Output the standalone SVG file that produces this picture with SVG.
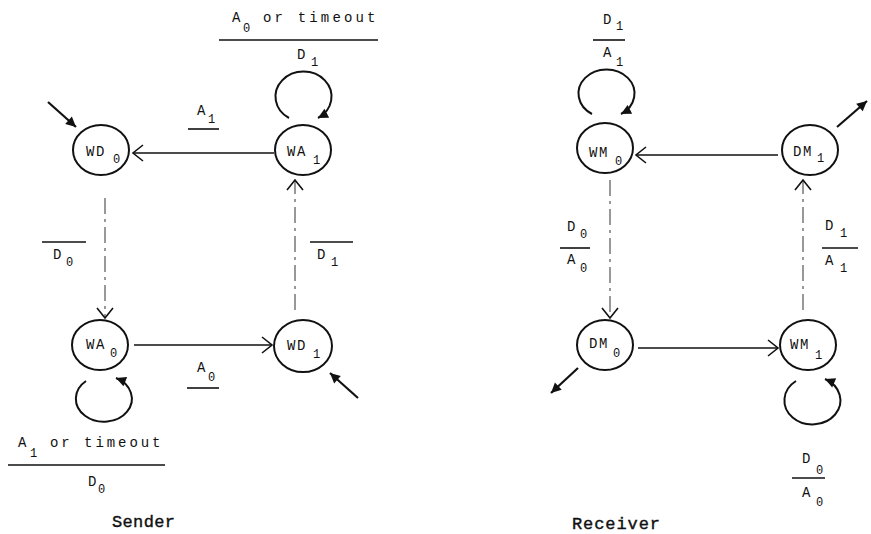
<svg xmlns="http://www.w3.org/2000/svg" width="871" height="534" viewBox="0 0 871 534">
<style>
.bg{fill:#fff}
.node ellipse{fill:none;stroke:#111;stroke-width:2}
.t{font-family:"Liberation Mono","DejaVu Sans Mono",monospace;font-size:14px;fill:#111;letter-spacing:1.5px}
.s{font-size:12px;letter-spacing:0}
.big{font-family:"Liberation Mono","DejaVu Sans Mono",monospace;font-size:17px;fill:#111;stroke:#111;stroke-width:0.4}
.edge{stroke:#111;stroke-width:1.6;fill:none}
.dash{stroke:#333;stroke-width:1;stroke-dasharray:16 5 3 5;fill:none}
.init{stroke:#111;stroke-width:2.2;fill:none}
.loop{stroke:#111;stroke-width:2;fill:none}
.bar{stroke:#111;stroke-width:1.6}
</style>
<defs>
<marker id="open" markerUnits="userSpaceOnUse" viewBox="-1 -1 13 18" markerWidth="13" markerHeight="18" refX="10" refY="8" orient="auto" overflow="visible">
<path d="M0,0 L10,8 L0,16" fill="none" stroke="#111" stroke-width="1.6"/>
</marker>
<marker id="fill" markerUnits="userSpaceOnUse" viewBox="0 0 11 10" markerWidth="11" markerHeight="10" refX="10" refY="5" orient="auto" overflow="visible">
<path d="M0,0 L10,5 L0,10 z" fill="#111"/>
</marker>
</defs>
<rect class="bg" x="0" y="0" width="871" height="534"/>

<g id="connectors">
<path class="edge" d="M274 153 H133" marker-end="url(#open)"/>
<path class="edge" d="M134 345 H272" marker-end="url(#open)"/>
<path class="edge" d="M778 155 H636" marker-end="url(#open)"/>
<path class="edge" d="M638 348 H778" marker-end="url(#open)"/>
<path class="dash" d="M105 198 V318" marker-end="url(#open)"/>
<path class="dash" d="M295 310 V180" marker-end="url(#open)"/>
<path class="dash" d="M610 180 V318" marker-end="url(#open)"/>
<path class="dash" d="M803 310 V180" marker-end="url(#open)"/>
<path class="loop" d="M289 118 A28 25 0 1 1 318 118" marker-end="url(#fill)"/>
<path class="loop" d="M86 381 A28 23 0 1 0 116 378" marker-end="url(#fill)"/>
<path class="loop" d="M592 114 A28 24 0 1 1 621 114" marker-end="url(#fill)"/>
<path class="loop" d="M796 381 A28 24 0 1 0 825 379" marker-end="url(#fill)"/>
<path class="init" d="M48 102 L76 127" marker-end="url(#fill)"/>
<path class="init" d="M358 398 L330 373" marker-end="url(#fill)"/>
<path class="init" d="M837 127 L867 101" marker-end="url(#fill)"/>
<path class="init" d="M578 368 L551 393" marker-end="url(#fill)"/>
</g>

<g id="WD0" class="node"><ellipse cx="101" cy="150" rx="28" ry="25"/><text class="t" x="86" y="156">WD<tspan class="s" x="113" y="163">0</tspan></text></g>
<g id="WA1" class="node"><ellipse cx="303" cy="150" rx="28" ry="25"/><text class="t" x="287" y="156">WA<tspan class="s" x="313" y="164">1</tspan></text></g>
<g id="WA0" class="node"><ellipse cx="100" cy="345" rx="28" ry="25"/><text class="t" x="86" y="349">WA<tspan class="s" x="110" y="357">0</tspan></text></g>
<g id="WD1" class="node"><ellipse cx="303" cy="346" rx="29" ry="26"/><text class="t" x="287" y="350">WD<tspan class="s" x="313" y="358">1</tspan></text></g>
<g id="WM0" class="node"><ellipse cx="605" cy="148" rx="28" ry="25"/><text class="t" x="589" y="157">WM<tspan class="s" x="615" y="165">0</tspan></text></g>
<g id="DM1" class="node"><ellipse cx="810" cy="150" rx="28" ry="25"/><text class="t" x="793" y="156">DM<tspan class="s" x="817" y="162">1</tspan></text></g>
<g id="DM0" class="node"><ellipse cx="605" cy="345" rx="28" ry="25"/><text class="t" x="589" y="348">DM<tspan class="s" x="613" y="357">0</tspan></text></g>
<g id="WM1" class="node"><ellipse cx="808" cy="345" rx="28" ry="25"/><text class="t" x="790" y="349">WM<tspan class="s" x="815" y="359">1</tspan></text></g>

<g id="labels">
<text class="t" x="232" y="22">A<tspan class="s" x="243" y="32">0</tspan></text>
<text class="t" x="263" y="22" textLength="114" lengthAdjust="spacing">or timeout</text>
<line class="bar" x1="219" y1="40" x2="378" y2="40"/>
<text class="t" x="297" y="59">D<tspan class="s" x="311" y="66">1</tspan></text>

<text class="t" x="197" y="115">A<tspan class="s" x="208" y="123">1</tspan></text>
<line class="bar" x1="188" y1="129" x2="219" y2="129"/>

<line class="bar" x1="42" y1="242" x2="86" y2="242"/>
<text class="t" x="53" y="259">D<tspan class="s" x="66" y="266">0</tspan></text>
<line class="bar" x1="310" y1="242" x2="353" y2="242"/>
<text class="t" x="317" y="259">D<tspan class="s" x="331" y="266">1</tspan></text>

<text class="t" x="197" y="372">A<tspan class="s" x="208" y="381">0</tspan></text>
<line class="bar" x1="187" y1="388" x2="219" y2="388"/>

<text class="t" x="18" y="447">A<tspan class="s" x="30" y="457">1</tspan></text>
<text class="t" x="50" y="447" textLength="112" lengthAdjust="spacing">or timeout</text>
<line class="bar" x1="8" y1="465" x2="165" y2="465"/>
<text class="t" x="88" y="486">D<tspan class="s" x="98" y="493">0</tspan></text>

<text class="big" x="112" y="527" textLength="63" lengthAdjust="spacing">Sender</text>

<text class="t" x="603" y="24">D<tspan class="s" x="616" y="30">1</tspan></text>
<line class="bar" x1="593" y1="40" x2="625" y2="40"/>
<text class="t" x="603" y="57">A<tspan class="s" x="616" y="66">1</tspan></text>

<text class="t" x="567" y="231">D<tspan class="s" x="580" y="238">0</tspan></text>
<line class="bar" x1="560" y1="248" x2="590" y2="248"/>
<text class="t" x="567" y="264">A<tspan class="s" x="580" y="272">0</tspan></text>

<text class="t" x="825" y="230">D<tspan class="s" x="840" y="237">1</tspan></text>
<line class="bar" x1="822" y1="248" x2="858" y2="248"/>
<text class="t" x="825" y="265">A<tspan class="s" x="840" y="272">1</tspan></text>

<text class="t" x="802" y="463">D<tspan class="s" x="816" y="474">0</tspan></text>
<line class="bar" x1="792" y1="478" x2="825" y2="478"/>
<text class="t" x="802" y="497">A<tspan class="s" x="816" y="506">0</tspan></text>

<text class="big" x="572" y="529" textLength="88" lengthAdjust="spacing">Receiver</text>
</g>
</svg>
